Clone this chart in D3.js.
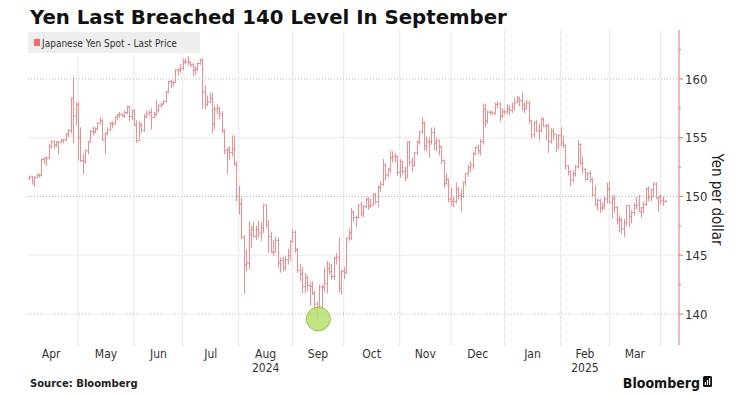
<!DOCTYPE html>
<html>
<head>
<meta charset="utf-8">
<script src="https://cdn.jsdelivr.net/npm/d3@7"></script>
<style>
  body { margin: 0; background: #fff; }
  svg { display: block; }
</style>
</head>
<body>
<script>
// USD/JPY daily bars, [open, high, low, close], one row per weekday
const apr24 = [
  [151.57,151.80,151.40,151.67],[151.67,151.75,151.00,151.33],[151.33,151.75,150.81,151.62],
  [151.62,151.95,151.55,151.85],[151.85,151.93,151.60,151.78],[151.78,153.24,151.70,153.15],
  [153.15,153.32,152.75,153.27],[153.27,153.40,152.60,153.25],[153.25,154.45,153.20,154.24],
  [154.24,154.78,154.10,154.69],[154.69,154.75,154.05,154.38],[154.38,154.70,154.20,154.64],
  [154.64,154.65,153.60,154.64],[154.64,154.85,154.55,154.82],[154.82,154.90,154.55,154.82],
  [154.82,155.37,154.70,155.32],[155.32,155.75,155.00,155.61],[155.61,158.44,155.40,158.33],
  [158.33,160.20,154.54,156.85],[156.85,157.99,156.05,157.79]
];
const may24 = [
  [157.79,158.00,153.05,155.00],[155.00,155.90,152.95,153.05],[153.05,153.60,151.86,152.97],
  [152.97,154.00,152.80,153.89],[153.89,154.70,153.60,154.64],[154.64,155.65,154.60,155.54],
  [155.54,155.95,155.20,155.48],[155.48,155.90,155.40,155.78],[155.78,156.30,155.60,156.22],
  [156.22,156.75,156.10,156.43],[156.43,156.60,154.70,154.87],[154.87,155.45,153.60,155.39],
  [155.39,155.90,155.20,155.65],[155.65,156.30,155.60,156.24],[156.24,156.40,155.80,156.17],
  [156.17,156.80,156.10,156.78],[156.78,157.00,156.50,156.94],[156.94,157.20,156.70,156.99],
  [156.99,157.05,156.75,156.84],[156.84,157.30,156.70,157.15],[157.15,157.71,157.00,157.62],
  [157.62,157.70,156.40,156.80],[156.80,157.40,156.50,157.30]
];
const jun24 = [
  [157.30,157.40,156.00,156.12],[156.12,156.48,154.55,154.76],[154.76,156.40,154.70,156.08],
  [156.08,156.30,155.40,155.64],[155.64,157.00,155.50,156.75],[156.75,157.30,156.70,157.04],
  [157.04,157.30,156.90,157.15],[157.15,157.50,155.70,156.72],[156.72,157.20,156.70,157.01],
  [157.01,158.25,156.85,157.38],[157.38,157.85,157.15,157.75],[157.75,157.95,157.60,157.86],
  [157.86,158.25,157.80,158.08],[158.08,159.00,158.00,158.90],[158.90,159.85,158.80,159.78],
  [159.78,159.90,159.25,159.68],[159.68,159.85,159.40,159.69],[159.69,160.85,159.65,160.78],
  [160.78,160.90,160.30,160.75],[160.75,161.28,160.55,160.88]
];
const jul24 = [
  [160.88,161.72,160.80,161.47],[161.47,161.75,161.25,161.45],[161.45,161.95,161.20,161.43],
  [161.43,161.50,161.00,161.23],[161.23,161.35,160.25,160.75],[160.75,161.10,160.35,160.83],
  [160.83,161.40,160.70,161.32],[161.32,161.70,161.20,161.62],[161.62,161.76,157.44,158.90],
  [158.90,159.45,157.38,157.86],[157.86,158.60,157.70,158.05],[158.05,158.85,157.95,158.35],
  [158.35,158.85,155.37,156.19],[156.19,157.70,155.70,157.40],[157.40,157.85,157.00,157.48],
  [157.48,157.60,156.60,157.05],[157.05,157.25,155.35,155.60],[155.60,155.75,153.60,153.91],
  [153.91,154.15,151.94,153.97],[153.97,154.30,153.10,153.75],[153.75,155.20,153.40,154.07],
  [154.07,155.20,152.60,152.76],[152.76,153.00,149.60,149.98]
];
const aug24 = [
  [149.98,150.90,148.50,149.37],[149.37,149.90,146.40,146.53],[146.53,146.70,141.68,144.18],
  [144.18,145.50,143.60,144.31],[144.31,147.90,143.80,146.72],[146.72,147.50,145.60,147.16],
  [147.16,147.80,146.50,146.60],[146.60,147.50,146.30,147.21],[147.21,147.95,146.50,146.87],
  [146.87,147.80,146.20,147.30],[147.30,149.39,146.90,149.28],[149.28,149.30,147.30,147.64],
  [147.64,148.00,145.20,146.60],[146.60,147.00,145.20,145.27],[145.27,146.30,144.95,145.23],
  [145.23,146.60,145.20,146.27],[146.27,146.50,143.90,144.37],[144.37,144.80,143.50,144.54],
  [144.54,144.85,143.60,143.94],[143.94,144.90,143.70,144.61],[144.61,145.55,144.20,144.98],
  [144.98,146.25,144.50,146.17]
];
const sep24 = [
  [146.17,147.20,146.10,146.95],[146.95,147.10,145.20,145.45],[145.45,145.60,143.50,143.73],
  [143.73,144.25,142.80,143.42],[143.42,144.00,141.75,142.31],[142.31,143.50,141.80,143.08],
  [143.08,143.30,141.95,142.43],[142.43,142.75,140.71,142.36],[142.36,142.80,141.60,141.80],
  [141.80,141.95,140.29,140.84],[140.84,141.05,139.58,140.61],[140.61,142.50,140.40,142.30],
  [142.30,142.50,140.45,142.29],[142.29,143.95,141.85,142.61],[142.61,144.50,141.75,143.86],
  [143.86,144.40,143.40,143.62],[143.62,144.25,142.90,143.19],[143.19,144.85,142.90,144.79],
  [144.79,145.20,144.20,144.83],[144.83,146.50,141.85,142.19],[142.19,143.80,141.65,143.63]
];
const oct24 = [
  [143.63,144.00,142.95,143.53],[143.53,146.50,143.40,146.46],[146.46,147.25,146.20,146.91],
  [146.91,149.00,146.30,148.70],[148.70,148.80,147.80,148.19],[148.19,148.35,147.35,148.21],
  [148.21,149.35,148.10,149.29],[149.29,149.55,148.30,148.58],[148.58,149.30,148.20,149.14],
  [149.14,149.90,149.00,149.76],[149.76,149.95,148.85,149.19],[149.19,149.80,149.00,149.26],
  [149.26,150.30,149.20,150.10],[150.10,150.30,149.40,149.54],[149.54,150.90,149.10,150.82],
  [150.82,151.30,150.40,151.04],[151.04,153.20,150.90,152.71],[152.71,152.80,151.40,151.83],
  [151.83,152.45,151.65,152.31],[152.31,153.90,152.00,153.30],[153.30,153.85,152.90,153.38],
  [153.38,153.70,152.90,153.39],[153.39,153.50,151.75,152.03]
];
const nov24 = [
  [152.03,153.20,151.60,152.98],[152.98,153.00,151.90,152.13],[152.13,152.50,151.30,151.61],
  [151.61,154.70,151.55,154.64],[154.64,154.70,152.60,152.94],[152.94,153.30,152.10,152.64],
  [152.64,153.80,152.50,153.72],[153.72,154.75,153.50,154.63],[154.63,155.60,154.40,155.49],
  [155.49,156.75,155.30,156.25],[156.25,156.40,153.90,154.31],[154.31,155.10,153.85,154.64],
  [154.64,155.00,153.30,154.66],[154.66,155.85,154.40,155.45],[155.45,155.90,153.95,154.54],
  [154.54,155.00,153.85,154.75],[154.75,154.85,153.50,154.23],[154.23,154.30,152.75,153.07],
  [153.07,153.15,150.75,151.09],[151.09,152.00,151.00,151.48],[151.48,151.50,149.50,149.77]
];
const dec24 = [
  [149.77,150.75,149.20,149.59],[149.59,150.00,149.10,149.58],[149.58,151.20,149.40,150.61],
  [150.61,150.80,149.75,150.10],[150.10,150.60,148.65,149.99],[149.99,151.30,149.90,151.20],
  [151.20,152.00,150.90,151.95],[151.95,152.70,151.70,152.45],[152.45,153.00,152.10,152.67],
  [152.67,153.80,152.30,153.65],[153.65,154.30,153.50,154.15],[154.15,154.40,153.60,153.90],
  [153.90,154.90,153.50,154.68],[154.68,157.90,154.40,157.42],[157.42,157.90,155.90,156.43],
  [156.43,157.30,156.20,157.18],[157.18,157.30,156.90,157.17],[157.17,157.25,156.95,157.09],
  [157.09,158.00,156.95,157.83],[157.83,158.10,157.50,157.87],[157.87,158.00,156.40,156.84],
  [156.84,157.50,156.70,157.20]
];
const jan25 = [
  [157.20,157.35,157.00,157.20],[157.20,157.85,157.00,157.46],[157.46,157.75,156.90,157.32],
  [157.32,158.00,157.10,157.65],[157.65,158.40,157.30,158.04],[158.04,158.55,157.90,158.32],
  [158.32,158.50,157.70,158.15],[158.15,158.87,157.30,157.74],[157.74,158.00,157.10,157.47],
  [157.47,158.20,157.40,157.96],[157.96,158.10,156.20,156.48],[156.48,156.50,154.95,155.26],
  [155.26,156.40,155.05,156.29],[156.29,156.50,155.50,155.59],[155.59,156.20,154.75,155.55],
  [155.55,156.75,155.50,156.54],[156.54,156.75,155.90,156.00],[156.00,156.20,154.80,156.01],
  [156.01,156.20,153.70,154.67],[154.67,155.80,154.50,155.56],[155.56,155.80,154.80,155.29],
  [155.29,155.30,153.80,154.26],[154.26,155.30,154.00,155.18]
];
const feb25 = [
  [155.18,155.90,154.30,154.56],[154.56,155.20,154.10,154.34],[154.34,154.45,152.30,152.59],
  [152.59,152.70,151.80,152.11],[152.11,152.20,150.90,151.41],[151.41,152.20,151.20,151.93],
  [151.93,152.70,151.70,152.53],[152.53,154.80,152.40,154.43],[154.43,154.50,152.70,152.82],
  [152.82,153.40,151.95,152.31],[152.31,152.40,151.30,151.45],[151.45,152.10,151.40,151.96],
  [151.96,152.20,151.20,151.47],[151.47,151.60,149.95,150.12],[150.12,150.95,149.25,149.28],
  [149.28,149.80,148.85,149.68],[149.68,149.80,148.60,149.02],[149.02,149.50,148.80,149.12],
  [149.12,150.05,148.90,149.78],[149.78,151.20,149.40,150.63]
];
const mar25 = [
  [150.63,151.30,149.40,149.45],[149.45,150.10,148.10,149.81],[149.81,150.15,148.60,149.05],
  [149.05,149.20,147.60,147.99],[147.99,148.40,146.95,147.98],[147.98,148.20,146.80,147.25],
  [147.25,148.10,146.54,147.77],[147.77,149.20,147.50,149.22],[149.22,149.30,147.40,148.28],
  [148.28,148.85,147.70,148.64],[148.64,149.45,148.40,149.22],[149.22,149.95,148.90,149.26],
  [149.26,150.15,148.70,148.70],[148.70,149.10,148.20,149.04],[149.04,149.55,148.55,149.32],
  [149.32,150.75,149.20,150.67],[150.67,150.85,149.60,149.90],[149.90,150.65,149.60,150.60],
  [150.60,151.20,149.90,151.06],[151.06,151.20,149.80,149.84],[149.84,150.00,148.70,149.96]
];
const apr25 = [
  [149.96,150.20,149.30,149.63],[149.63,150.00,149.20,149.57],[149.57,149.70,149.50,149.62]
];

// first trading day of each block above
const blockStarts = ["2024-04-03","2024-05-01","2024-06-03","2024-07-01","2024-08-01","2024-09-02",
  "2024-10-01","2024-11-01","2024-12-02","2025-01-01","2025-02-03","2025-03-03","2025-04-01"];
const blocks = [apr24, may24, jun24, jul24, aug24, sep24, oct24, nov24, dec24, jan25, feb25, mar25, apr25];

const monthLabels = ["Apr","May","Jun","Jul","Aug","Sep","Oct","Nov","Dec","Jan","Feb","Mar"];
const yearLabels = [{month: "Aug", year: "2024"}, {month: "Feb", year: "2025"}];
const yTicks = [140, 145, 150, 155, 160];
const yMinor = [142.5, 147.5, 152.5, 157.5, 162.5];

const W = 750, H = 395;
const plot = {left: 28, right: 679, top: 30, bottom: 345};
const red = "#f26b6b";
const narrow = "DejaVu Sans Condensed";

// weekday index counted from 2024-04-01
const origin = new Date(2024, 3, 1);
const parse = d3.timeParse("%Y-%m-%d");
function wkIndex(date) {
  return d3.timeDay.range(origin, date).filter(d => d.getDay() % 6 !== 0).length;
}

const bars = [];
blocks.forEach((rows, b) => {
  let i = wkIndex(parse(blockStarts[b]));
  rows.forEach(r => { bars.push({i, o: r[0], h: r[1], l: r[2], c: r[3]}); i++; });
});

const x = d3.scaleLinear().domain([1.5, 268.6]).range([plot.left, plot.right]);
const y = d3.scaleLinear().domain([137.36, 164.17]).range([plot.bottom, plot.top]);

const monthStarts = d3.range(13).map(k => wkIndex(new Date(2024, 3 + k, 1)));

const svg = d3.select("body").append("svg").attr("width", W).attr("height", H);
svg.append("rect").attr("width", W).attr("height", H).attr("fill", "#fff");

// title
const title = svg.append("text")
  .attr("x", 30).attr("y", 24)
  .attr("font-family", "DejaVu Sans").attr("font-weight", "bold")
  .attr("font-size", 21).attr("fill", "#111")
  .text("Yen Last Breached 140 Level In September");
const tw = title.node().getComputedTextLength();
title.attr("font-size", 21 * 477 / tw);

// grid
const grid = svg.append("g");
grid.selectAll("line.v").data(monthStarts.slice(1, 13)).join("line")
  .attr("x1", d => x(d)).attr("x2", d => x(d))
  .attr("y1", plot.top).attr("y2", plot.bottom)
  .attr("stroke", "#d2d2d2").attr("stroke-dasharray", "1,1");
grid.selectAll("line.h").data(yTicks).join("line")
  .attr("x1", plot.left).attr("x2", plot.right)
  .attr("y1", d => y(d)).attr("y2", d => y(d))
  .attr("stroke", d => d % 10 === 0 ? "#b8b8b8" : "#ebebeb")
  .attr("stroke-dasharray", d => d % 10 === 0 ? "1,2" : null);

// legend
svg.append("rect").attr("x", 28).attr("y", 32).attr("width", 172).attr("height", 21).attr("fill", "#eeeeee");
svg.append("rect").attr("x", 34).attr("y", 39).attr("width", 6).attr("height", 7).attr("fill", red);
svg.append("text").attr("x", 42).attr("y", 46.5)
  .attr("font-family", narrow).attr("font-size", 10).attr("fill", "#333")
  .text("Japanese Yen Spot - Last Price");

// OHLC bars
svg.append("g")
  .attr("fill", "none").attr("stroke", "#ee8f8f").attr("stroke-width", 1)
  .selectAll("path").data(bars).join("path")
  .attr("d", d => {
    const cx = Math.round(x(d.i)) + 0.5;
    return `M${cx},${y(d.h)}V${y(d.l)}M${cx - 1.5},${y(d.o)}H${cx}M${cx},${y(d.c)}H${cx + 1.5}`;
  });

// annotation at the September low
const low = d3.least(bars, d => d.l);
svg.append("circle")
  .attr("cx", x(low.i) + 1.5).attr("cy", y(low.l))
  .attr("r", 12)
  .attr("fill", "#b6de6b").attr("fill-opacity", 0.85)
  .attr("stroke", "#97c54e").attr("stroke-width", 1);

// right axis
const axis = svg.append("g");
axis.append("line").attr("x1", plot.right).attr("x2", plot.right)
  .attr("y1", plot.top).attr("y2", plot.bottom).attr("stroke", red);
axis.selectAll("line.t").data(yTicks).join("line")
  .attr("x1", plot.right).attr("x2", plot.right + 4)
  .attr("y1", d => y(d)).attr("y2", d => y(d)).attr("stroke", red);
axis.selectAll("line.m").data(yMinor).join("line")
  .attr("x1", plot.right).attr("x2", plot.right + 2)
  .attr("y1", d => y(d)).attr("y2", d => y(d)).attr("stroke", red);
axis.selectAll("text").data(yTicks).join("text")
  .attr("x", plot.right + 6).attr("y", d => y(d)).attr("dy", "0.36em")
  .attr("font-family", narrow).attr("font-size", 13).attr("fill", "#333")
  .text(d => d);
svg.append("text")
  .attr("transform", `translate(712,${(plot.top + plot.bottom) / 2 + 12}) rotate(90)`)
  .attr("text-anchor", "middle")
  .attr("font-family", narrow).attr("font-size", 15).attr("fill", "#222")
  .text("Yen per dollar");

// month labels
const monthMid = monthLabels.map((m, k) => ({m, xm: x((monthStarts[k] + monthStarts[k + 1]) / 2)}));
svg.append("g").selectAll("text").data(monthMid).join("text")
  .attr("x", d => d.xm).attr("y", 358).attr("text-anchor", "middle")
  .attr("font-family", narrow).attr("font-size", 12).attr("fill", "#333")
  .text(d => d.m);
svg.append("g").selectAll("text").data(yearLabels).join("text")
  .attr("x", d => monthMid.find(e => e.m === d.month).xm).attr("y", 372).attr("text-anchor", "middle")
  .attr("font-family", narrow).attr("font-size", 12).attr("fill", "#333")
  .text(d => d.year);

// footer
svg.append("text").attr("x", 30).attr("y", 387)
  .attr("font-family", "DejaVu Sans").attr("font-weight", "bold").attr("font-size", 10).attr("fill", "#222")
  .text("Source: Bloomberg");
svg.append("text").attr("x", 700).attr("y", 388).attr("text-anchor", "end")
  .attr("font-family", narrow).attr("font-weight", "bold").attr("font-size", 14).attr("fill", "#111")
  .text("Bloomberg");
const logo = svg.append("g").attr("transform", "translate(703,376)");
logo.append("rect").attr("width", 9).attr("height", 11).attr("rx", 1.5).attr("fill", "#111");
logo.selectAll("rect.b").data([3, 5, 7]).join("rect")
  .attr("x", (d, k) => 1.8 + k * 2.1).attr("y", d => 9 - d).attr("width", 1.2).attr("height", d => d).attr("fill", "#fff");
</script>
</body>
</html>
